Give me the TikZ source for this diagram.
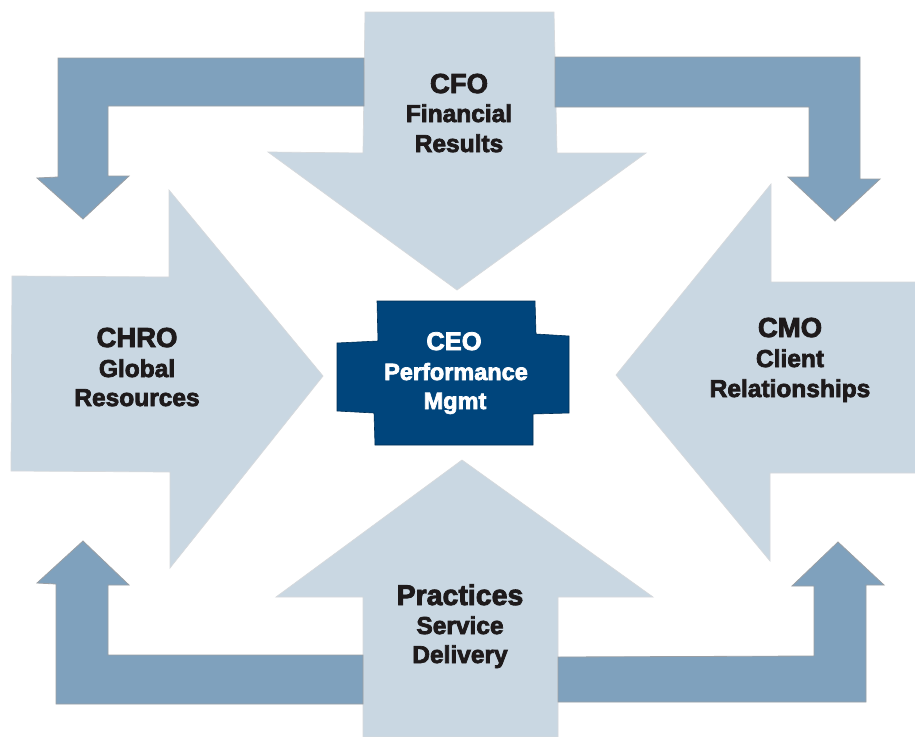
\documentclass[tikz,border=0pt]{standalone}
\usepackage{fontspec}
\setmainfont{Liberation Sans}[BoldFeatures={FakeBold=3}]
\definecolor{paleblue}{HTML}{C9D7E2}
\definecolor{paleedge}{HTML}{D6D9DC}
\definecolor{midblue}{HTML}{7FA1BD}
\definecolor{midedge}{HTML}{9A9FA4}
\definecolor{navy}{HTML}{00457C}
\definecolor{ink}{HTML}{1E1A1B}
\tikzset{
  bigarrow/.style={fill=paleblue, draw=paleedge, line width=0.7pt, line join=miter},
  loopbar/.style={fill=midblue, draw=midedge, line width=0.8pt, line join=miter},
  ceobox/.style={fill=navy, draw=navy!70!black, line width=0.6pt},
  title/.style={anchor=base, inner sep=0pt, text=ink, font=\bfseries\fontsize{27.5}{30}\selectfont},
  sub/.style={anchor=base, inner sep=0pt, text=ink, font=\bfseries\fontsize{24.5}{28}\selectfont},
  ceotext/.style={anchor=base, inner sep=0pt, text=white, font=\bfseries\fontsize{25.5}{28}\selectfont},
  ceosub/.style={anchor=base, inner sep=0pt, text=white, font=\bfseries\fontsize{23.5}{28}\selectfont}
}
\begin{document}
\begin{tikzpicture}[x=1pt, y=-1pt]
\useasboundingbox (0,0) rectangle (915,736);
\fill[white] (0,0) rectangle (915,736);

% four broad arrows pointing at the centre
\draw[bigarrow] (457,290) -- (268,152) -- (363,153) -- (365,12) -- (554,12)
  -- (557,153) -- (646,153) -- cycle;
\draw[bigarrow] (323,376) -- (169,190) -- (169,277) -- (12,276) -- (11,471)
  -- (170,472) -- (170,568) -- cycle;
\draw[bigarrow] (616,375) -- (771,184) -- (771,282) -- (916,282) -- (916,473)
  -- (770,473) -- (770,561) -- cycle;
\draw[bigarrow] (462,460) -- (653,597) -- (558,597) -- (558,737) -- (363,737)
  -- (363,597) -- (276,597) -- cycle;

% bent arrows circulating between the functions
\draw[loopbar] (364,58) -- (58,58) -- (58,177) -- (37,178) -- (83,219)
  -- (129,176) -- (108,176) -- (108,106) -- (364,106) -- cycle;
\draw[loopbar] (555,57) -- (860,57) -- (860,179) -- (880,179) -- (835,221)
  -- (788,177) -- (809,177) -- (809,107) -- (555,107) -- cycle;
\draw[loopbar] (363,655) -- (108,655) -- (108,585) -- (129,585) -- (83,541)
  -- (37,583) -- (56,584) -- (56,704) -- (363,704) -- cycle;
\draw[loopbar] (558,657) -- (814,656) -- (814,586) -- (792,586) -- (838,542)
  -- (884,585) -- (866,585) -- (866,702) -- (558,702) -- cycle;

% central CEO block
\draw[ceobox] (377,301) -- (535,301) -- (536,334) -- (569,336) -- (569,413)
  -- (533,414) -- (533,445) -- (375,445) -- (374,413) -- (337,411)
  -- (337,343) -- (378,341) -- cycle;

% labels
\node[title] (cfo) at (459,93) {CFO};
\node[sub] (cfo2) at (459,122) {Financial};
\node[sub] (cfo3) at (459,152) {Results};

\node[title] (chro) at (137,347) {CHRO};
\node[sub] (chro2) at (137,377) {Global};
\node[sub] (chro3) at (137,406) {Resources};

\node[title] (cmo) at (790,337) {CMO};
\node[sub] (cmo2) at (790,367) {Client};
\node[sub] (cmo3) at (790,397) {Relationships};

\node[title, font=\bfseries\fontsize{28.5}{30}\selectfont] (prac) at (460,605) {Practices};
\node[sub] (prac2) at (460,634) {Service};
\node[sub] (prac3) at (460,663) {Delivery};

\node[ceotext] (ceo) at (454,350) {CEO};
\node[ceosub] (ceo2) at (456,380) {Performance};
\node[ceosub] (ceo3) at (455,409) {Mgmt};
\end{tikzpicture}
\end{document}
